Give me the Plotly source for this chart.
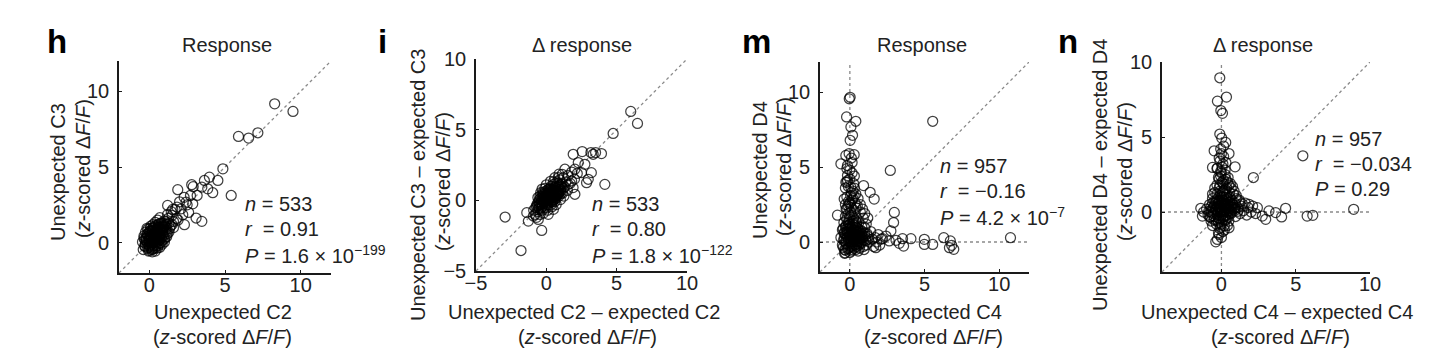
import plotly.graph_objects as go

W, H = 1437, 362

# ---------------- data ----------------
# panel h : Unexpected C2 (x) vs Unexpected C3 (y)
h_x = [-0.45, -0.3, -0.2, -0.1, 0.0, 0.05, 0.1, 0.15, 0.2, 0.25, 0.3, 0.35, 0.4, 0.45, 0.5, 0.55, 0.6, 0.65,
       0.7, 0.75, 0.8, 0.85, 0.9, 0.95, 1.0, 1.05, 1.1, 1.15, 1.25, 1.3, 1.4, 1.5, 1.6, 1.7, 1.45, 1.2,
       -0.35, -0.25, -0.15, 0.0, 0.1, 0.25, 0.4, 0.55, 0.7, -0.4, -0.05, 0.2, 0.4, 0.55, 0.7, 0.85, 1.0,
       1.15, 1.2, 0.1, 0.3, 0.5, 0.2, 0.45, 0.6, 0.35, 0.15, 0.0, -0.1, 0.75, 0.9, 1.05, 0.25, -0.3,
       0.05, 0.15, 0.25, 0.35, 0.45, 0.55, 0.65, 0.8, 0.95, 1.1, -0.2, -0.1, 0.0, 0.2, 0.4, 0.6, 0.3, 0.5,
       0.7, 0.9, 1.3, 1.5, 1.8, -0.25, 0.1, 0.35, 0.65, 0.85, -0.35, 0.15,
       8.28, 9.49, 5.89, 6.56, 7.17, 4.86, 5.41, 1.88, 2.80, 2.9, 3.97, 3.64, 4.53, 3.86, 4.19, 3.47,
       3.16, 2.72, 2.43, 2.87, 3.47, 3.09, 2.32, 2.21, 1.83, 1.21, 1.55, 2.1, 2.0, 2.5, 1.6, 2.3, 1.9, 2.6]
h_y = [0.05, -0.2, 0.3, -0.35, 0.1, 0.5, -0.15, 0.3, 0.75, -0.4, 0.05, 0.45, 0.9, -0.2, 0.25, 0.65, 1.05, -0.05,
       0.4, 0.8, 1.25, 0.15, 0.6, 1.0, 1.45, 0.35, 0.85, 1.2, 1.6, 0.7, 1.1, 1.8, 1.4, 2.2, 2.05, 1.85,
       0.45, 0.7, 0.95, 0.75, 1.1, 1.2, 1.35, 1.5, 1.65, -0.45, -0.55, -0.6, -0.55, -0.35, -0.3, -0.1, 0.05,
       0.4, 0.6, 0.45, 0.6, 0.85, 0.2, 0.55, 0.3, 0.25, 0.0, 0.35, 0.6, 1.05, 1.3, 1.1, 0.95, 0.2,
       0.15, 0.45, 0.1, 0.7, 0.35, 0.05, 0.55, 0.75, 0.45, 1.0, 0.1, 0.45, -0.2, -0.3, 0.15, 0.9, 0.4, 0.6,
       0.2, 0.85, 1.3, 1.2, 1.6, -0.05, 0.8, 1.05, 1.25, 0.45, 0.3, -0.45,
       9.17, 8.67, 7.02, 6.91, 7.26, 4.88, 3.12, 3.50, 3.83, 3.7, 4.33, 4.11, 4.11, 3.56, 3.30, 3.67,
       3.12, 3.12, 2.68, 2.57, 1.41, 1.63, 1.19, 1.85, 2.35, 2.46, 2.2, 2.24, 2.7, 2.5, 1.0, 3.0, 1.5, 2.0]
h_core_x = [-0.28, -0.12, 0.02, 0.18, 0.32, 0.48, 0.62, 0.78, -0.22, -0.05, 0.12, 0.28, 0.42, 0.58, 0.72, 0.88,
            -0.15, 0.05, 0.22, 0.38, 0.52, 0.68, 0.82, 0.98, -0.08, 0.08, 0.26, 0.44, 0.6, 0.76, 0.92, 1.08,
            0.0, 0.2, 0.4, 0.58, 0.78, 1.0, 1.18, 1.35]
h_core_y = [-0.25, -0.1, -0.3, 0.0, -0.2, 0.1, 0.15, 0.3, 0.25, 0.2, 0.35, 0.5, 0.45, 0.4, 0.6, 0.7,
            0.55, 0.65, 0.8, 0.6, 0.75, 0.95, 0.9, 1.15, 0.9, 0.95, 1.0, 1.15, 1.2, 1.3, 1.05, 1.4,
            -0.5, -0.45, -0.35, -0.2, 0.0, 0.25, 0.75, 0.95]

# panel i : (Unexpected C2 - expected C2) vs (Unexpected C3 - expected C3)
i_x = [-0.9, -0.8, -0.7, -0.6, -0.55, -0.5, -0.45, -0.4, -0.35, -0.3, -0.25, -0.2, -0.15, -0.1, -0.05, 0.0,
       0.05, 0.1, 0.15, 0.2, 0.25, 0.3, 0.35, 0.4, 0.45, 0.5, 0.55, 0.6, 0.65, 0.7, 0.75, 0.8, 0.85, 0.9,
       0.95, 1.0, 1.1, 1.15, 1.2, 1.3, 1.4, 1.5, 1.55, -0.6, -0.3, 0.0, 0.3, 0.6, 0.9, -0.2, 0.1, 0.4, 0.7,
       1.0, 1.25, 0.1, 0.35, 0.5, -0.1, 0.2, 0.6, 0.8, 0.25, -0.4, 0.45, -0.7, -0.45, 1.7, 1.8, 2.0, 1.9, 2.2,
       -0.3, -0.15, 0.0, 0.15, 0.3, 0.45, 0.55, 0.7, 0.85, 1.0, -0.5, -0.35, -0.05, 0.1, 0.25, 0.4, 0.2,
       0.05, -0.2, 0.6, 0.75, 0.9, 1.05, 1.2, -0.1, 0.35, 0.6, -0.6, 0.5, 0.8,
       6.0, 6.48, 4.75, 4.16, -2.93, -1.80, -0.33, 1.91, 2.55, 3.17, 3.5, 3.92, 3.33, 2.27, 2.74, 2.03,
       1.32, 2.5, 2.98, 3.2, 2.86, 1.8, 1.13, 0.85, 1.56, 2.03, -1.39, -1.28, -0.92, -0.57, 0.14, 0.5]
i_y = [-0.7, -1.0, -0.4, -0.8, -0.1, -0.55, 0.3, -0.3, 0.0, -0.7, 0.45, -0.2, 0.2, -0.5, 0.65, 0.0,
       0.35, -0.3, 0.8, 0.15, 0.5, -0.15, 1.0, 0.3, 0.7, 0.0, 1.15, 0.45, 0.85, 0.15, 1.3, 0.6, 1.0, 0.3,
       1.45, 0.8, 1.15, 0.5, 1.6, 0.95, 1.3, 0.7, 1.75, 0.2, 0.8, 1.1, 1.35, 1.6, 1.85, -0.9, -0.7, -0.45, -0.3,
       0.05, 0.3, 0.55, 0.25, 0.55, 0.3, -0.05, 0.25, 0.35, 0.85, 0.55, -0.1, -1.2, -1.0, 1.2, 2.0, 1.5, 0.9, 1.9,
       -0.3, -0.05, 0.25, 0.5, 0.75, 0.45, 0.2, 0.55, 0.75, 1.05, -0.3, -0.55, 0.1, 0.1, 0.3, 0.55, 0.65,
       -0.15, 0.4, 0.9, 0.4, 0.6, 0.5, 0.85, 0.85, -0.3, -0.1, -0.4, 1.3, 1.2,
       6.29, 5.44, 4.73, 1.13, -1.18, -3.55, -2.13, 3.26, 3.45, 3.38, 3.38, 3.31, 3.26, 2.67, 2.55, 2.2,
       2.2, 1.96, 1.49, 1.96, 1.25, 1.37, 1.84, 1.6, 1.13, 0.43, -0.87, -1.47, -1.11, -1.35, -0.99, -0.64]
i_core_x = [-0.75, -0.6, -0.45, -0.3, -0.15, 0.0, 0.15, 0.3, 0.45, 0.6, 0.75, 0.9, -0.65, -0.5, -0.35, -0.2,
            -0.05, 0.1, 0.25, 0.4, 0.55, 0.7, 0.85, 1.0, -0.4, -0.25, -0.1, 0.05, 0.2, 0.35, 0.5, 0.65,
            0.8, 0.95, 1.1, 0.0, 0.3, 0.6, -0.3, 0.15]
i_core_y = [-0.5, -0.65, -0.2, -0.45, -0.1, -0.3, 0.05, -0.05, 0.2, 0.1, 0.45, 0.55, -0.25, 0.05, -0.15, 0.15,
            0.3, 0.2, 0.1, 0.0, 0.35, 0.7, 0.45, 0.65, 0.15, 0.55, 0.45, 0.55, 0.35, 0.6, 0.8, 1.0,
            0.9, 1.1, 0.95, -0.55, 0.45, 0.6, 0.25, 0.75]

# panel m : Unexpected C4 (x) vs Unexpected D4 (y)
m_x = [-0.6, -0.5, -0.5, -0.4, -0.4, -0.35, -0.3, -0.3, -0.25, -0.2, -0.2, -0.15, -0.1, -0.1, -0.05, 0.0,
       0.0, 0.05, 0.1, 0.1, 0.15, 0.2, 0.2, 0.25, 0.3, 0.3, 0.35, 0.4, 0.4, 0.45, 0.5, 0.5, 0.55, 0.6, 0.65,
       0.7, 0.75, 0.8, 0.85, 0.9, 1.0, 1.05, 1.1, 1.2, 1.3, 1.4, 1.5, 1.6, 1.7, 1.8, 1.9, 2.0, 2.1, -0.2, 0.1,
       -0.1, 0.2, -0.3, 0.0, 0.15, -0.2, 0.3, 0.5, 0.7, 0.9, 1.1, -0.45, 0.6, 0.35, 0.05, -0.15, 0.25, 0.45,
       0.8, 1.0, 0.2, -0.05, 0.55, 0.95, 0.0, -0.35,
       0.0, 0.1, 0.2, 0.3, 0.4, 0.5, 0.6, 0.7, 0.0, -0.2, -0.3, 0.15, 0.35, 0.25, 0.1, -0.1, 0.45, 0.65,
       0.85, 1.15, -0.4, 0.05, 0.3, 0.55, 0.2, -0.05, 0.75, 1.25, -0.25, 0.4,
       -0.04, 0.02, -0.22, 0.4, 0.07, 0.18, 0.02, 5.55, 2.71, -0.27, 0.29, -0.6, -0.16, 0.92, 1.36, 1.63,
       2.98, 2.93, -0.83, 4.09, 4.99, 4.99, 5.55, 6.29, 6.73, 6.82, 6.96, 6.67, 10.76, 3.53, 3.31, 3.6,
       3.09, 2.64, 2.42, 2.19, 1.74, 2.75, -0.31, -0.16, -0.27, 0.07, 0.29, -0.38, -0.04, 0.4]
m_y = [0.3, -0.2, 0.8, 1.3, 0.1, -0.5, 0.5, 1.7, -0.1, 0.9, 2.2, 0.3, -0.4, 1.3, 0.6, 2.6,
       0.0, 1.0, -0.6, 1.8, 0.4, 1.4, -0.2, 0.8, 2.1, 0.1, 1.1, -0.5, 0.5, 1.6, -0.1, 0.9, 0.3, 1.3, -0.4,
       0.6, 0.0, 1.0, 0.3, -0.3, 0.6, 0.1, -0.2, 0.4, 0.0, 0.7, 0.2, -0.3, 0.3, 0.0, 0.5, -0.2, 0.2, 3.0, 3.3,
       3.7, 2.9, 2.5, 4.2, 4.6, 4.0, 3.6, 2.4, 2.0, 1.6, 1.2, 0.9, 0.75, 0.2, 0.25, 0.65, 1.25, 0.05,
       0.5, 0.95, 0.55, 1.5, -0.6, -0.5, -0.7, -0.75,
       0.4, 0.7, 0.2, 0.6, 1.0, 0.4, 0.1, 0.8, 1.2, 0.5, 0.0, -0.3, -0.2, 1.6, 2.3, 1.9, 1.3, 0.45,
       0.7, 0.55, 0.6, -0.1, 0.35, 0.65, 1.0, 0.9, 0.25, 0.2, 1.1, 0.75,
       9.55, 9.65, 8.34, 8.05, 7.67, 7.11, 6.78, 8.05, 4.77, 5.77, 5.82, 5.21, 5.1, 3.76, 3.31, 2.86,
       1.97, 1.30, 1.79, 0.22, 0.18, -0.16, -0.16, 0.29, 0.07, -0.22, -0.49, -0.38, 0.29, 0.22, -0.09, -0.27,
       0.11, 0.07, 0.4, 0.22, -0.38, 0.74, -0.72, 4.43, 3.98, 3.65, 3.09, 2.86, 2.53, 2.3]
m_core_x = [-0.45, -0.3, -0.15, 0.0, 0.15, 0.3, 0.45, 0.6, 0.75, 0.9, -0.4, -0.25, -0.1, 0.05, 0.2, 0.35,
            0.5, 0.65, 0.8, 1.0, -0.35, -0.2, -0.05, 0.1, 0.25, 0.4, 0.55, 0.7, -0.3, -0.1, 0.1, 0.3,
            0.5, -0.2, 0.0, 0.2, 0.4, 0.05, -0.1, 0.15,
            -0.25, -0.1, 0.05, 0.2, 0.35, -0.3, -0.15, 0.0, 0.15, 0.3, -0.2, 0.1, 0.25, -0.05, 0.4, 0.55,
            0.7, 0.85, 1.0, 1.2]
m_core_y = [-0.35, -0.55, -0.45, -0.3, -0.5, -0.4, -0.3, -0.2, -0.1, 0.1, 0.2, 0.15, 0.1, 0.2, 0.0, 0.3,
            0.15, 0.25, 0.2, 0.4, 0.6, 0.7, 0.4, 0.5, 0.55, 0.35, 0.5, 0.4, 1.0, 1.1, 0.9, 0.8,
            0.7, 1.5, 1.7, 1.2, 1.4, 2.0, 2.4, 2.8,
            2.2, 2.7, 3.1, 3.4, 2.6, 3.6, 4.1, 4.8, 5.3, 4.4, 4.9, 5.6, 3.9, 5.9, 3.2, 2.9,
            2.5, 2.2, 1.9, 1.6]

# panel n : (Unexpected C4 - expected C4) vs (Unexpected D4 - expected D4)
n_x = [-1.0, -0.9, -0.8, -0.7, -0.7, -0.6, -0.55, -0.5, -0.45, -0.4, -0.35, -0.3, -0.3, -0.25, -0.2, -0.15,
       -0.1, -0.1, -0.05, 0.0, 0.0, 0.05, 0.1, 0.1, 0.15, 0.2, 0.2, 0.25, 0.3, 0.3, 0.35, 0.4, 0.45, 0.5,
       0.55, 0.6, 0.65, 0.7, 0.75, 0.8, 0.9, 0.95, 1.0, 1.1, 1.2, 1.25, 1.35, 1.5, 1.6, 1.7, 1.8, 2.0, 2.1,
       2.3, -0.6, -0.2, 0.0, 0.1, 0.4, -1.2, -0.8, 0.05, -0.1, 0.15, -0.05, 0.25, 0.45, 0.6, 0.85, -0.25,
       0.2, 0.35, -0.05, 0.5, 0.15, -0.4, 0.7, 0.3,
       0.0, 0.1, -0.1, 0.2, -0.2, 0.3, -0.3, 0.4, 0.0, 0.1, -0.1, 0.2, -0.2, 0.5, 0.6, -0.5, 0.05, 0.25,
       -0.15, 0.35, 0.15, -0.05, 0.7, 0.9, -0.65, 0.45, 0.0, 0.25, -0.35, 0.55,
       -0.11, -0.27, 0.34, -0.04, 0.07, -0.11, 0.02, 0.29, -0.49, 0.51, 0.92, -0.6, -0.27, 2.15, 5.48, 8.9,
       5.77, 6.15, 4.32, 4.05, 3.65, 3.2, 2.98, 2.75, 2.42, 1.86, -1.39, -1.28, -0.27, -0.38, -0.16, 0.51]
n_y = [0.2, -0.2, 0.5, 0.0, -0.6, 0.9, 0.3, -0.3, 1.3, 0.6, -0.8, 0.1, 1.8, 0.9, -0.4, 2.2,
       0.4, 1.4, -1.0, 0.0, 2.6, 0.8, 1.9, -0.5, 0.3, 1.2, -1.2, 0.6, 2.2, -0.2, 1.6, 0.2, 0.9, -0.6,
       1.3, 0.4, -0.1, 0.8, 1.7, 0.2, 0.6, -0.3, 1.1, 0.3, 0.7, -0.1, 0.4, 0.1, 0.6, -0.2, 0.3, 0.0, 0.4,
       -0.1, -0.9, -1.4, -1.7, -1.3, -0.9, 0.0, -0.3, 3.0, 3.4, 3.7, 4.2, 2.8, 2.3, 1.9, 1.4, 0.35,
       0.05, 0.55, 0.7, 0.35, 1.0, 0.2, 0.0, -0.5,
       0.3, 0.6, 0.1, 0.4, 0.6, 0.8, -0.1, 0.5, 1.0, 1.4, 1.8, -0.3, -0.7, 0.1, 0.7, 0.4, -0.2, 0.15,
       0.35, 1.15, 2.1, 2.4, 0.35, 0.1, 0.15, -0.35, -0.8, 1.5, 0.75, 1.0,
       8.95, 7.39, 7.66, 6.76, 6.58, 5.2, 4.93, 4.64, 4.08, 3.9, 3.01, 2.97, 2.92, 2.30, 3.75, 0.18,
       -0.27, -0.22, 0.25, -0.33, -0.04, 0.07, -0.49, -0.27, 0.29, 0.51, 0.25, -0.27, -1.83, -1.99, -1.5, -1.05]
n_core_x = [-0.85, -0.7, -0.55, -0.4, -0.25, -0.1, 0.05, 0.2, 0.35, 0.5, 0.65, 0.8, 0.95, 1.1, -0.75, -0.6,
            -0.45, -0.3, -0.15, 0.0, 0.15, 0.3, 0.45, 0.6, 0.75, 0.9, -0.5, -0.35, -0.2, -0.05, 0.1, 0.25,
            0.4, 0.55, -0.3, -0.1, 0.1, 0.3, -0.15, 0.05,
            -0.2, -0.05, 0.1, 0.25, 0.4, -0.3, -0.15, 0.0, 0.15, 0.3, 0.5, 0.65, 0.8, 1.0, 1.2, 1.4,
            -0.45, -0.6, 0.2, -0.1]
n_core_y = [0.05, 0.35, -0.1, 0.15, 0.0, -0.25, 0.15, 0.0, 0.3, 0.2, 0.1, 0.45, 0.25, 0.05, -0.35, 0.6,
            0.75, 0.5, 0.8, 0.5, 0.75, 0.5, 0.65, 0.35, 0.55, 0.3, -0.5, -0.55, -0.6, -0.45, -0.35, -0.55,
            -0.2, -0.1, 1.2, 1.1, 1.3, 1.0, 1.6, 2.0,
            2.3, 2.7, 3.2, 2.5, 2.0, 2.9, 3.6, 3.9, 4.4, 3.3, 1.8, 1.6, 1.2, 0.9, 0.8, 0.55,
            1.6, 1.2, -0.9, -1.1]

panel_letters = ["h", "i", "m", "n"]
panel_titles = ["Response", "\u0394 response", "Response", "\u0394 response"]
x_titles = ["Unexpected C2", "Unexpected C2 \u2013 expected C2", "Unexpected C4", "Unexpected C4 \u2013 expected C4"]
y_titles = ["Unexpected C3", "Unexpected C3 \u2013 expected C3", "Unexpected D4", "Unexpected D4 \u2013 expected D4"]
unit_label = "(<i>z</i>-scored \u0394<i>F</i>/<i>F</i>)"
stat_n = ["533", "533", "957", "957"]
stat_r = ["0.91", "0.80", "\u22120.16", "\u22120.034"]
stat_p = ["1.6 \u00d7 10<sup>\u2212199</sup>", "1.8 \u00d7 10<sup>\u2212122</sup>", "4.2 \u00d7 10<sup>\u22127</sup>", "0.29"]

x_ranges = [[-2, 12], [-5, 10], [-2, 12], [-4, 10]]
y_ranges = [[-2, 12], [-5, 10], [-2, 12], [-4, 10]]
x_ticks = [[0, 5, 10], [-5, 0, 5, 10], [0, 5, 10], [0, 5, 10]]
y_ticks = [[0, 5, 10], [-5, 0, 5, 10], [0, 5, 10], [0, 5, 10]]
zero_lines = [False, False, True, True]

xs = [h_x + h_core_x, i_x + i_core_x, m_x + m_core_x, n_x + n_core_x]
ys = [h_y + h_core_y, i_y + i_core_y, m_y + m_core_y, n_y + n_core_y]

# ---------------- layout geometry (pixels in the screenshot) ----------------
plot_px = [(119, 331, 61, 273), (476, 687, 59, 271), (820, 1029, 62, 272), (1162, 1370, 62, 272)]
ytitle_px = [(58, 83), (418, 443), (760, 784), (1100, 1125)]
ytitle_cy = [172, 185, 170, 175]
xtitle_cx = [(223, 222), (584, 587), (933, 933), (1277, 1280)]
title_cx = [227, 582, 922, 1263]
letter_x = [45, 376, 740, 1056]
stat_pos = [(243, 204), (590, 204), (938, 166), (1313, 139)]

# page body margin offsets the figure in the screenshot
OFF = 8

FONT = "Liberation Sans, Arial, Helvetica, sans-serif"
FS = 20


def px(x):
    return (x - OFF) / W


def py(y):
    return 1 - (y - OFF) / H


fig = go.Figure()
annotations = []
shapes = []
layout = dict(template="none", width=W, height=H, margin=dict(l=0, r=0, t=0, b=0, pad=0),
              paper_bgcolor="white", plot_bgcolor="white", showlegend=False,
              font=dict(family=FONT, size=FS, color="#1a1a1a"))

for k in range(4):
    xa = "x" if k == 0 else f"x{k+1}"
    ya = "y" if k == 0 else f"y{k+1}"
    x0, x1, y0, y1 = plot_px[k]
    axis_common = dict(showline=True, linecolor="#1a1a1a", linewidth=1.6, mirror=False,
                       showgrid=False, zeroline=False, ticks="inside", ticklen=3,
                       tickcolor="#1a1a1a", tickwidth=1.3, automargin=False,
                       tickfont=dict(family=FONT, size=FS, color="#222"))
    layout["xaxis" if k == 0 else f"xaxis{k+1}"] = dict(
        axis_common, domain=[px(x0), px(x1)], range=x_ranges[k], tickvals=x_ticks[k],
        anchor=ya, ticklabelstandoff=-7)
    layout["yaxis" if k == 0 else f"yaxis{k+1}"] = dict(
        axis_common, domain=[py(y1), py(y0)], range=y_ranges[k], tickvals=y_ticks[k],
        anchor=xa, ticklabelstandoff=4)

    fig.add_trace(go.Scatter(
        x=xs[k], y=ys[k], mode="markers", xaxis=xa, yaxis=ya,
        marker=dict(symbol="circle-open", size=10, color="rgba(0,0,0,0.75)",
                    line=dict(width=1.25))))

    dot = dict(color="#8a8a8a", width=1.3, dash="dot")
    lo = max(x_ranges[k][0], y_ranges[k][0])
    hi = min(x_ranges[k][1], y_ranges[k][1])
    shapes.append(dict(type="line", xref=xa, yref=ya, x0=lo, y0=lo, x1=hi, y1=hi,
                       line=dot, layer="below"))
    if zero_lines[k]:
        shapes.append(dict(type="line", xref=xa, yref=ya, x0=0, x1=0,
                           y0=y_ranges[k][0], y1=y_ranges[k][1], line=dot, layer="below"))
        shapes.append(dict(type="line", xref=xa, yref=ya, y0=0, y1=0,
                           x0=x_ranges[k][0], x1=x_ranges[k][1], line=dot, layer="below"))

    # panel letter
    annotations.append(dict(text=f"<b>{panel_letters[k]}</b>", x=px(letter_x[k]), y=py(42),
                            xref="paper", yref="paper", xanchor="left", yanchor="middle",
                            showarrow=False, font=dict(size=33, color="black", family=FONT)))
    # title
    annotations.append(dict(text=panel_titles[k], x=px(title_cx[k]), y=py(45),
                            xref="paper", yref="paper", xanchor="center", yanchor="middle",
                            showarrow=False, font=dict(size=FS, color="#222")))
    # x titles
    annotations.append(dict(text=x_titles[k], x=px(xtitle_cx[k][0]), y=py(312),
                            xref="paper", yref="paper", xanchor="center", yanchor="middle",
                            showarrow=False, font=dict(size=FS, color="#222")))
    annotations.append(dict(text=unit_label, x=px(xtitle_cx[k][1]), y=py(337),
                            xref="paper", yref="paper", xanchor="center", yanchor="middle",
                            showarrow=False, font=dict(size=FS, color="#222")))
    # y titles
    annotations.append(dict(text=y_titles[k], x=px(ytitle_px[k][0]), y=py(ytitle_cy[k]),
                            xref="paper", yref="paper", xanchor="center", yanchor="middle",
                            textangle=-90, showarrow=False, font=dict(size=FS, color="#222")))
    annotations.append(dict(text=unit_label, x=px(ytitle_px[k][1]), y=py(ytitle_cy[k] - 3),
                            xref="paper", yref="paper", xanchor="center", yanchor="middle",
                            textangle=-90, showarrow=False, font=dict(size=FS, color="#222")))
    # stats
    sx, sy = stat_pos[k]
    lines = [f"<i>n</i> = {stat_n[k]}",
             f"<i>r</i>\u00a0 = {stat_r[k]}",
             f"<i>P</i> = {stat_p[k]}"]
    for j, t in enumerate(lines):
        annotations.append(dict(text=t, x=px(sx), y=py(sy + 25 * j),
                                xref="paper", yref="paper", xanchor="left", yanchor="middle",
                                showarrow=False, font=dict(size=FS, color="#222")))

layout["annotations"] = annotations
layout["shapes"] = shapes
fig.update_layout(**layout)
fig.write_html("out.html")
